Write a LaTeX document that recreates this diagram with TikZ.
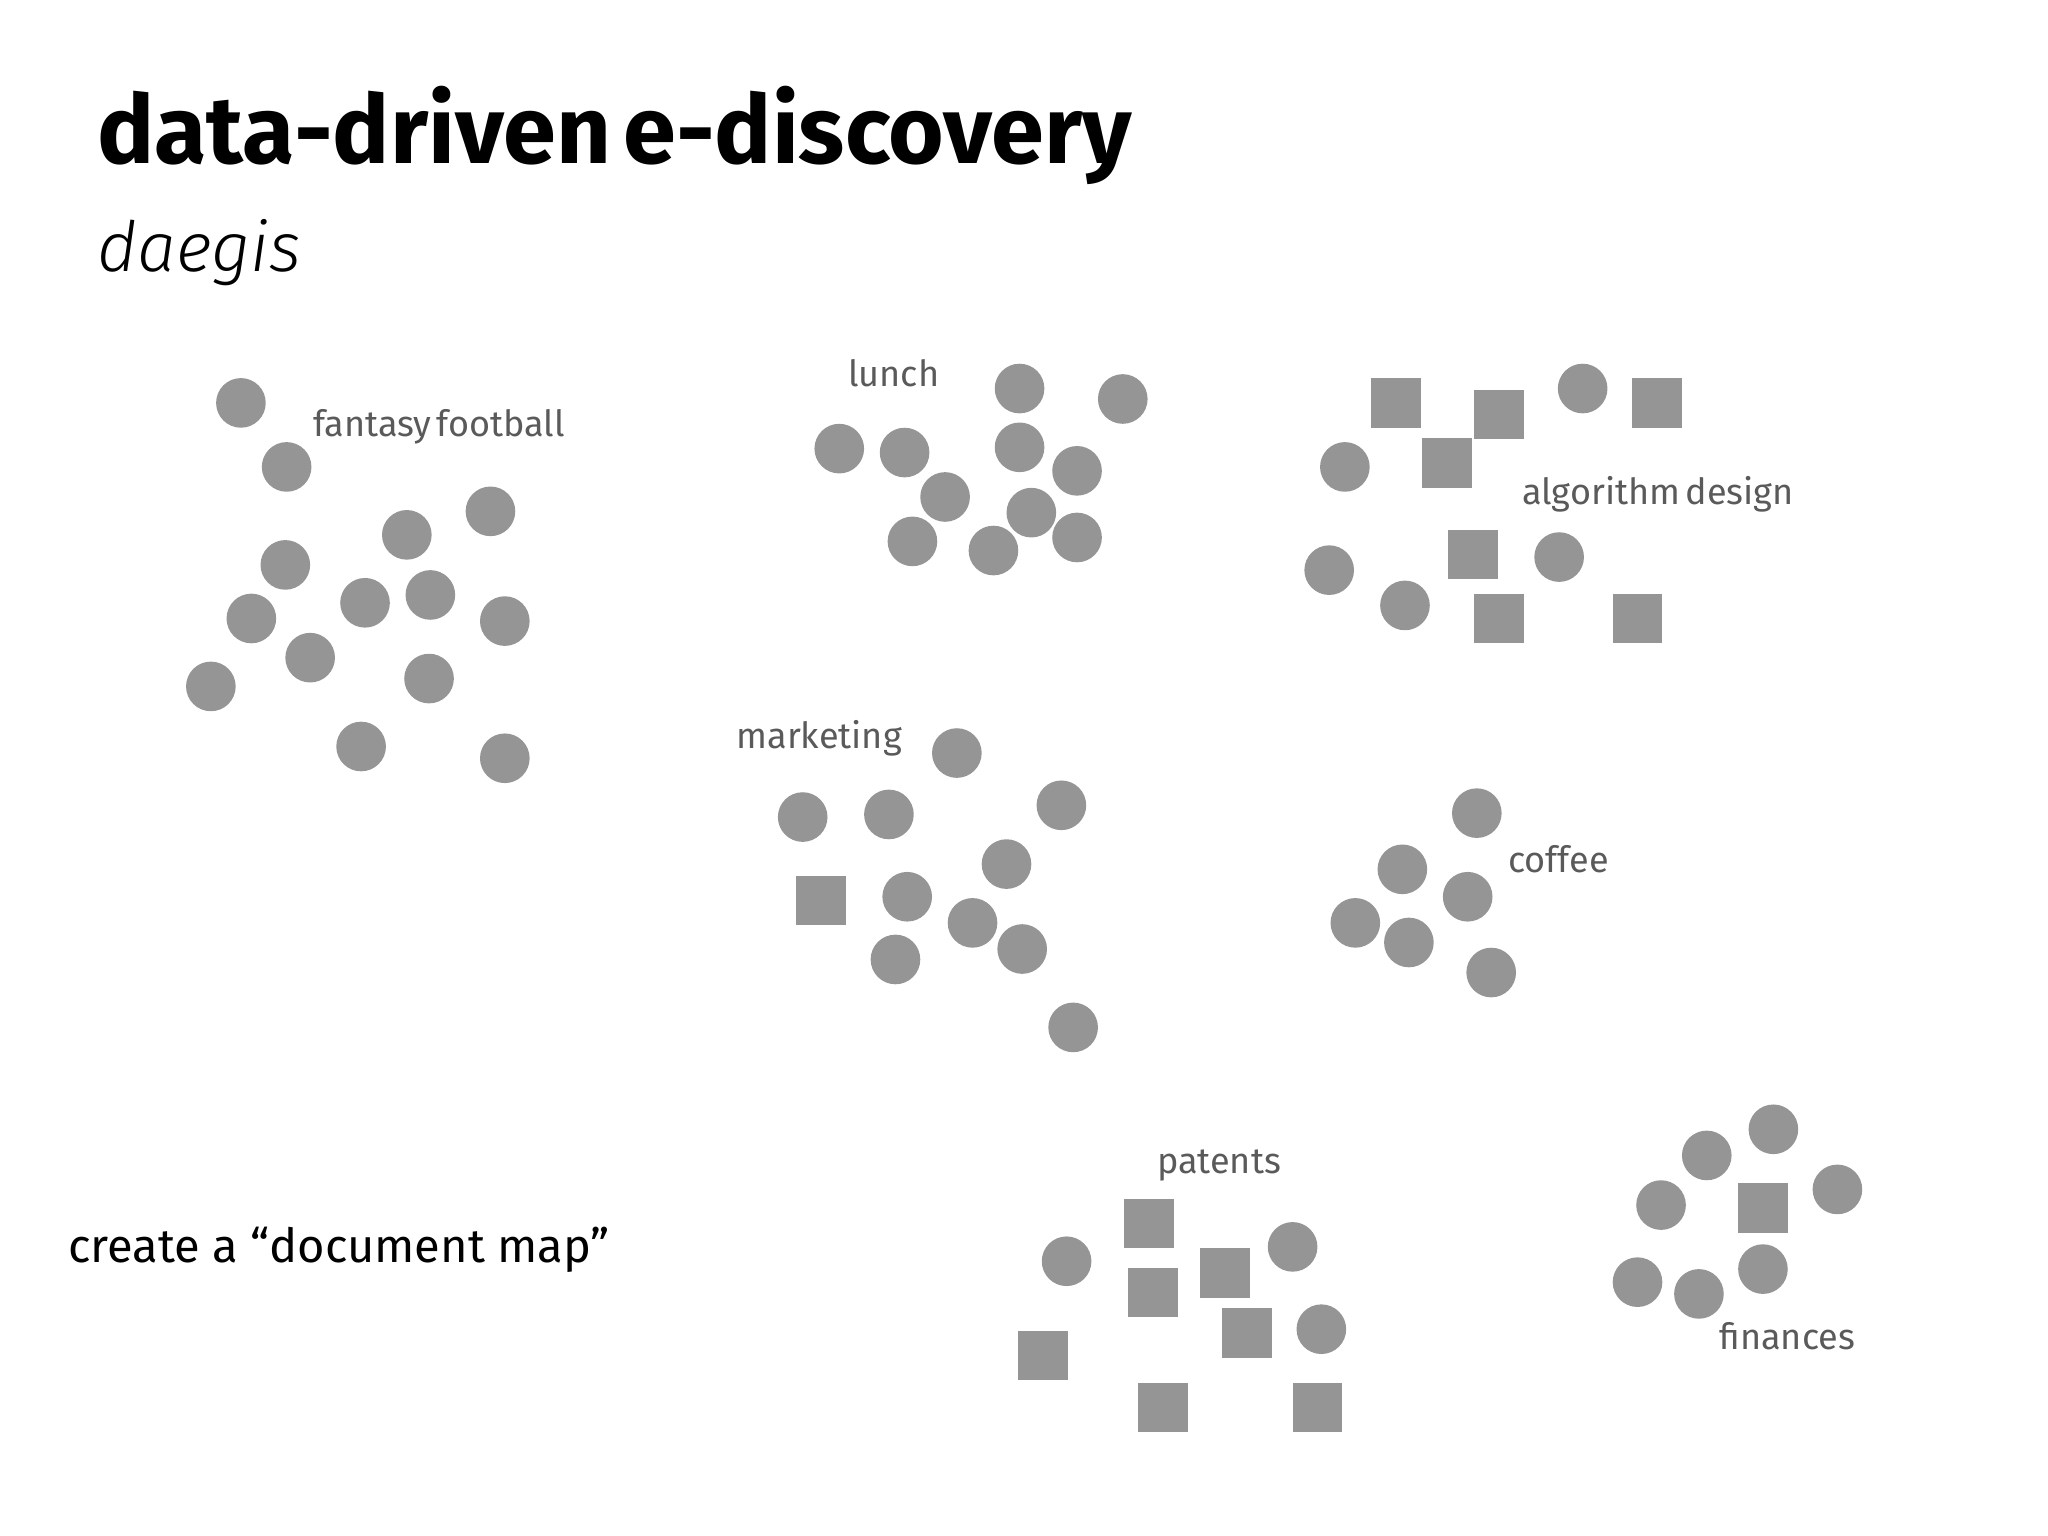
\documentclass[tikz,border=0pt]{standalone}
\usepackage{fontspec}
\setmainfont[WordSpace=0.55]{Fira Sans}
\newfontfamily\daegisfont[ItalicFont={Fira Sans Light Italic}]{Fira Sans Light}
\newfontfamily\mapfont{Fira Sans}
\tikzset{
	doc/.style={circle, fill=docgray, inner sep=0pt, minimum size=19pt},
	patentdoc/.style={rectangle, fill=docgray, inner sep=0pt, minimum size=19pt},
	topic/.style={text=topicgray, inner sep=0pt, font=\fontsize{13.8}{17}\selectfont},
}
\definecolor{docgray}{HTML}{959595}
\definecolor{topicgray}{HTML}{5A5A5A}

\begin{document}
\begin{tikzpicture}[x=0.5pt, y=-0.5pt]
	\useasboundingbox (0,0) rectangle (1567.6,1175.7);
	\node (TITLE) [anchor=base west, inner sep=0pt, font=\fontsize{36.5}{44}\selectfont\bfseries] at (74,125) {data-driven e-discovery};
	\node (SUB) [anchor=base west, inner sep=0pt, font=\fontsize{26.5}{31}\selectfont\daegisfont\itshape] at (74,208) {daegis};
	\node (MAP) [anchor=base west, inner sep=0pt, font=\fontsize{18}{22}\selectfont\mapfont] at (52,966) {create a “document map”};

	\node (FOOTBALL) [topic] at (336,327) {fantasy football};
	\node (LUNCH) [topic] at (684,286) {lunch};
	\node (ALGO) [topic] at (1269,378) {algorithm design};
	\node (MARKETING) [topic] at (627,565) {marketing};
	\node (COFFEE) [topic] at (1193,658) {coffee};
	\node (PATENTS) [topic] at (933,892) {patents};
	\node (FINANCES) [topic] at (1368,1023) {finances};

	\begin{scope}[shift={(0.4,0.4)}]
	\foreach \x/\y [count=\i] in {184/308, 219/357, 375/391, 311/409, 218/432, 329/455, 279/461, 192/473, 386/475, 237/503, 328/519, 161/525, 276/571, 386/580}
		\node (F\i) [doc] at (\x,\y) {};
	\foreach \x/\y [count=\i] in {780/297, 859/305, 642/343, 692/346, 780/342, 824/360, 723/380, 789/392, 824/411, 698/414, 760/421}
		\node (L\i) [doc] at (\x,\y) {};
	\foreach \x/\y [count=\i] in {1211/297, 1029/357, 1017/436, 1075/463, 1193/426}
		\node (A\i) [doc] at (\x,\y) {};
	\foreach \x/\y [count=\i] in {1068/308, 1147/317, 1268/308, 1107/354, 1127/424, 1147/473, 1253/473}
		\node (@A\i) [patentdoc] at (\x,\y) {};
	\foreach \x/\y [count=\i] in {732/576, 812/616, 614/625, 680/623, 770/661, 694/686, 744/706, 782/726, 685/734, 821/786}
		\node (M\i) [doc] at (\x,\y) {};
	\node (@M1) [patentdoc] at (628,689) {};
	\foreach \x/\y [count=\i] in {1130/622, 1073/665, 1123/686, 1037/706, 1078/721, 1141/744}
		\node (C\i) [doc] at (\x,\y) {};
	\foreach \x/\y [count=\i] in {816/965, 989/954, 1011/1017}
		\node (P\i) [doc] at (\x,\y) {};
	\foreach \x/\y [count=\i] in {879/936, 937/974, 882/989, 954/1020, 798/1037, 890/1077, 1008/1077}
		\node (@P\i) [patentdoc] at (\x,\y) {};
	\foreach \x/\y [count=\i] in {1357/864, 1306/884, 1271/922, 1406/910, 1349/971, 1253/981, 1300/990}
		\node (N\i) [doc] at (\x,\y) {};
	\node (@N1) [patentdoc] at (1349,924) {};
	\end{scope}
\end{tikzpicture}
\end{document}
